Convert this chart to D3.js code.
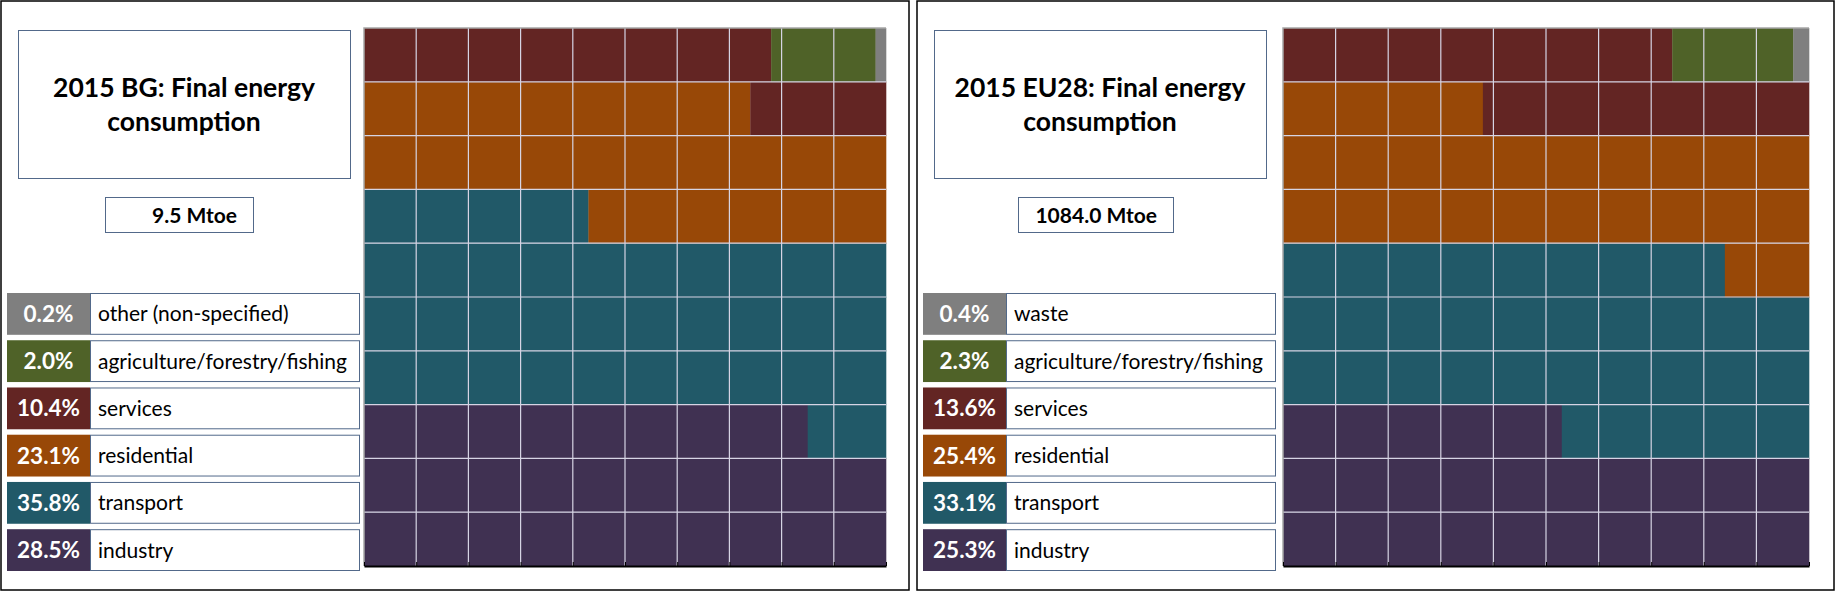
<!DOCTYPE html>
<html>
<head>
<meta charset="utf-8">
<script src="https://cdn.jsdelivr.net/npm/d3@7"></script>
<style>
  body { margin: 0; background: #fff; }
  text { font-family: Lato, "Open Sans", sans-serif; }
</style>
</head>
<body>
<script>
// data
var bgTitle = ["2015 BG: Final energy", "consumption"];
var bgTotal = 9.5;
var bgLabels = ["industry", "transport", "residential", "services", "agriculture/forestry/fishing", "other (non-specified)"];
var bgShares = [28.5, 35.8, 23.1, 10.4, 2.0, 0.2];

var euTitle = ["2015 EU28: Final energy", "consumption"];
var euTotal = 1084.0;
var euLabels = ["industry", "transport", "residential", "services", "agriculture/forestry/fishing", "waste"];
var euShares = [25.3, 33.1, 25.4, 13.6, 2.3, 0.4];

var sectorColors = ["#403152", "#215968", "#984807", "#632523", "#4f6228", "#7f7f7f"];
var rows = d3.range(10);      // one row = 10 %
var cols = d3.range(0, 11);   // one cell = 1 %

var W = 1835, H = 591;
var fmtPct = d3.format(".1f");

var svg = d3.select("body")
    .append("svg")
    .attr("width", W)
    .attr("height", H);

// layout of the two panels
var panels = [
    { x0: 0, w: 908, title: bgTitle, total: bgTotal, labels: bgLabels, shares: bgShares,
      valBox: [105, 148], grid: [364, 886] },
    { x0: 916, w: 917, title: euTitle, total: euTotal, labels: euLabels, shares: euShares,
      valBox: [102, 155], grid: [367, 893] }
];

panels.forEach(drawPanel);

function drawPanel(p){
    var g = svg.append("g").attr("transform", "translate(" + p.x0 + ",0)");

    g.append("rect")
        .attr("x", 1).attr("y", 1)
        .attr("width", p.w).attr("height", H - 2)
        .attr("fill", "none")
        .attr("stroke", "#000")
        .attr("stroke-width", 1.5);

    // title box
    g.append("rect")
        .attr("x", 18.5).attr("y", 30.5)
        .attr("width", 332).attr("height", 148)
        .attr("fill", "#fff")
        .attr("stroke", "#52698a");

    g.selectAll("text.title")
        .data(p.title)
        .enter().append("text")
        .attr("class", "title")
        .attr("x", 184)
        .attr("y", function(d, i){ return 97 + i * 34; })
        .attr("text-anchor", "middle")
        .style("font-size", "26.5px")
        .style("font-weight", "bold")
        .text(function(d){ return d; });

    // total box
    g.append("rect")
        .attr("x", p.valBox[0] + 0.5).attr("y", 197.5)
        .attr("width", p.valBox[1]).attr("height", 35)
        .attr("fill", "#fff")
        .attr("stroke", "#52698a");

    g.append("text")
        .attr("x", p.valBox[0] + p.valBox[1] - 16)
        .attr("y", 223)
        .attr("text-anchor", "end")
        .style("font-size", "21px")
        .style("font-weight", "bold")
        .text(fmtPct(p.total) + " Mtoe");

    // legend, top item is the last sector
    var order = d3.range(p.labels.length).reverse();
    var ly = d3.scaleBand()
        .domain(order)
        .range([293, 571])
        .paddingInner(0.115);

    var item = g.selectAll("g.item")
        .data(order)
        .enter().append("g")
        .attr("class", "item")
        .attr("transform", function(i){ return "translate(0," + ly(i) + ")"; });

    item.append("rect")
        .attr("x", 7).attr("width", 83)
        .attr("height", ly.bandwidth())
        .attr("fill", function(i){ return sectorColors[i]; });

    item.append("rect")
        .attr("x", 90.5).attr("y", 0.5)
        .attr("width", 269)
        .attr("height", ly.bandwidth() - 1)
        .attr("fill", "#fff")
        .attr("stroke", "#52698a");

    item.append("text")
        .attr("x", 48.5)
        .attr("y", ly.bandwidth() / 2 + 8)
        .attr("text-anchor", "middle")
        .attr("fill", "#fff")
        .style("font-size", "22.5px")
        .style("font-weight", "bold")
        .text(function(i){ return fmtPct(p.shares[i]) + "%"; });

    item.append("text")
        .attr("x", 98)
        .attr("y", ly.bandwidth() / 2 + 7.5)
        .style("font-size", "21px")
        .text(function(i){ return p.labels[i]; });

    // waffle rows: each row is a 10 % stacked bar, bottom row first
    var x = d3.scaleLinear().domain([0, 10]).range(p.grid);
    var y = d3.scaleBand().domain(rows.slice().reverse()).range([28, 566]);

    var cum = 0;
    var segs = [];
    p.shares.forEach(function(v, i){
        var a = cum, b = Math.min(100, cum + v);
        cum = b;
        rows.forEach(function(r){
            var lo = Math.max(a, r * 10), hi = Math.min(b, r * 10 + 10);
            if (hi > lo) segs.push({ row: r, lo: lo - r * 10, hi: hi - r * 10, k: i });
        });
    });

    g.append("g").selectAll("rect")
        .data(segs)
        .enter().append("rect")
        .attr("x", function(d){ return x(d.lo); })
        .attr("y", function(d){ return y(d.row); })
        .attr("width", function(d){ return x(d.hi) - x(d.lo) + 0.3; })
        .attr("height", y.bandwidth() + 0.3)
        .attr("fill", function(d){ return sectorColors[d.k]; });

    // light grid over the cells
    var grid = g.append("g")
        .attr("stroke", "#d6d4e4")
        .attr("stroke-width", 1.2);

    grid.selectAll("line.v")
        .data(cols.slice(1, 10))
        .enter().append("line")
        .attr("x1", function(d){ return x(d); })
        .attr("x2", function(d){ return x(d); })
        .attr("y1", 28).attr("y2", 566);

    grid.selectAll("line.h")
        .data(rows.slice(0, 9))
        .enter().append("line")
        .attr("y1", function(r){ return y(r); })
        .attr("y2", function(r){ return y(r); })
        .attr("x1", p.grid[0]).attr("x2", p.grid[1]);

    // gray frame on top and left
    g.append("path")
        .attr("d", "M" + p.grid[0] + ",566V28H" + p.grid[1])
        .attr("fill", "none")
        .attr("stroke", "#a6a6a6")
        .attr("stroke-width", 1.5);

    var xAxis = d3.axisBottom(x)
        .tickValues(cols)
        .tickSizeInner(-4)
        .tickSizeOuter(0)
        .tickFormat("");

    g.append("g")
        .attr("class", "x axis")
        .attr("transform", "translate(0,566)")
        .call(xAxis)
        .call(function(a){
            a.select(".domain").attr("stroke", "#000").attr("stroke-width", 2);
            a.selectAll(".tick line").attr("stroke", "#000");
        });
}
</script>
</body>
</html>
